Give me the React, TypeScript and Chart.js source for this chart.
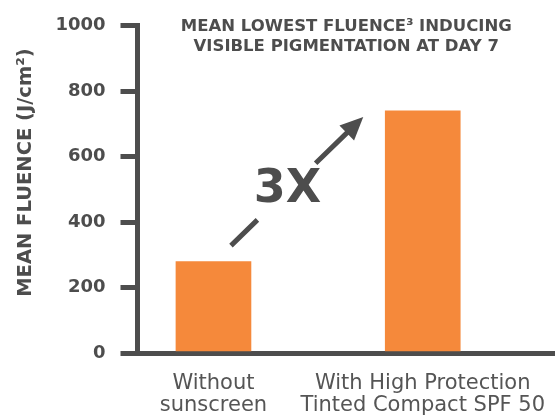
import { useEffect, useRef } from "react";
import { Chart, registerables } from "chart.js";

Chart.register(...registerables);

// ---- data ----
const categories: string[][] = [
  ["Without", "sunscreen"],
  ["With High Protection", "Tinted Compact SPF 50"],
];
const fluence: number[] = [280, 740];
const yTickValues: number[] = [0, 200, 400, 600, 800, 1000];
const titleLines: string[] = ["MEAN LOWEST FLUENCE³ INDUCING", "VISIBLE PIGMENTATION AT DAY 7"];
const yAxisTitle = "MEAN FLUENCE (J/cm²)";
const multiplierLabel = "3X";

// ---- styles ----
const ORANGE = "#F5893B";
const DARK = "#4D4D4D";
const LABEL = "#555555";
const FONT = '"DejaVu Sans", "Liberation Sans", sans-serif';

const overlayPlugin = {
  id: "overlay",
  afterDraw(chart: any) {
    const { ctx, chartArea } = chart;
    const meta = chart.getDatasetMeta(0);
    const b0 = meta.data[0];
    const b1 = meta.data[1];
    if (!b0 || !b1) return;
    ctx.save();

    // chart title
    ctx.fillStyle = DARK;
    ctx.font = `bold 16.5px ${FONT}`;
    ctx.textAlign = "center";
    ctx.textBaseline = "middle";
    const cx = (chartArea.left + chartArea.right) / 2;
    titleLines.forEach((line, i) => ctx.fillText(line, cx, chartArea.top + 0.5 + i * 20.5));

    // arrow from first bar to second bar
    const half0 = b0.width / 2;
    const half1 = b1.width / 2;
    const sx = b0.x + half0 - 20;
    const sy = b0.y - 16;
    const tx = b1.x - half1 - 22;
    const ty = b1.y + 6;
    const dx = tx - sx;
    const dy = ty - sy;
    const len = Math.hypot(dx, dy);
    const ux = dx / len;
    const uy = dy / len;
    const headLen = 23;
    const headHalf = 10.5;
    const baseX = tx - ux * headLen;
    const baseY = ty - uy * headLen;

    ctx.strokeStyle = DARK;
    ctx.lineWidth = 5;
    ctx.lineCap = "butt";
    ctx.beginPath();
    ctx.moveTo(sx, sy);
    ctx.lineTo(sx + dx * 0.2, sy + dy * 0.2);
    ctx.moveTo(sx + dx * 0.64, sy + dy * 0.64);
    ctx.lineTo(baseX + ux * 2, baseY + uy * 2);
    ctx.stroke();

    ctx.fillStyle = DARK;
    ctx.beginPath();
    ctx.moveTo(tx, ty);
    ctx.lineTo(baseX - uy * headHalf, baseY + ux * headHalf);
    ctx.lineTo(baseX + uy * headHalf, baseY - ux * headHalf);
    ctx.closePath();
    ctx.fill();

    // multiplier label in the gap
    ctx.font = `bold 46px ${FONT}`;
    ctx.textAlign = "center";
    ctx.textBaseline = "middle";
    ctx.fillText(multiplierLabel, sx + dx * 0.42 + 1, sy + dy * 0.42 - 2);

    ctx.restore();
  },
};

export default function App() {
  const canvasRef = useRef<HTMLCanvasElement | null>(null);

  useEffect(() => {
    document.body.style.margin = "0";
    const canvas = canvasRef.current;
    if (!canvas) return;

    const points = fluence.map((v, i) => ({ x: i, y: v }));

    const chart = new Chart(canvas, {
      type: "bar",
      data: {
        datasets: [
          {
            data: points as any,
            backgroundColor: ORANGE,
            borderWidth: 0,
            barThickness: 75,
          },
        ],
      },
      options: {
        animation: false,
        responsive: true,
        maintainAspectRatio: false,
        layout: { padding: { top: 20, left: 0, right: 0, bottom: 0 } },
        plugins: {
          legend: { display: false },
          tooltip: { enabled: false },
          title: { display: false },
        },
        scales: {
          x: {
            type: "linear",
            offset: false,
            min: -0.363,
            max: 1.632,
            grid: { display: false, drawTicks: false, offset: false },
            border: { display: true, width: 5, color: DARK },
            afterBuildTicks: (scale: any) => {
              scale.ticks = categories.map((_, i) => ({ value: i }));
            },
            afterFit: (scale: any) => {
              scale.height = 65.7;
              scale.paddingLeft = 0;
              scale.paddingRight = 0;
            },
            ticks: {
              autoSkip: false,
              maxRotation: 0,
              minRotation: 0,
              padding: 19,
              color: LABEL,
              font: { family: FONT, size: 21, weight: "normal", lineHeight: 1.07 },
              callback: (value: any) => categories[Number(value)] ?? "",
            },
          },
          y: {
            type: "linear",
            min: yTickValues[0],
            max: yTickValues[yTickValues.length - 1],
            afterBuildTicks: (scale: any) => {
              scale.ticks = yTickValues.map((v) => ({ value: v }));
            },
            afterFit: (scale: any) => {
              scale.width = 137.5;
            },
            grid: {
              drawOnChartArea: false,
              drawTicks: true,
              tickLength: 17,
              lineWidth: 5,
              color: DARK,
            },
            border: { display: true, width: 5, color: DARK },
            ticks: {
              padding: 15,
              color: DARK,
              font: { family: FONT, size: 18, weight: "bold" },
              callback: (value: any) => String(value),
            },
            title: {
              display: true,
              text: "\u00A0\u00A0\u00A0\u00A0\u00A0" + yAxisTitle,
              color: DARK,
              padding: { top: 14, bottom: 0 },
              font: { family: FONT, size: 19.5, weight: "bold", lineHeight: 1.2 },
            },
          },
        },
      },
      plugins: [overlayPlugin],
    });

    return () => chart.destroy();
  }, []);

  return (
    <div style={{ position: "relative", width: "555px", height: "419px" }}>
      <canvas ref={canvasRef} />
    </div>
  );
}
